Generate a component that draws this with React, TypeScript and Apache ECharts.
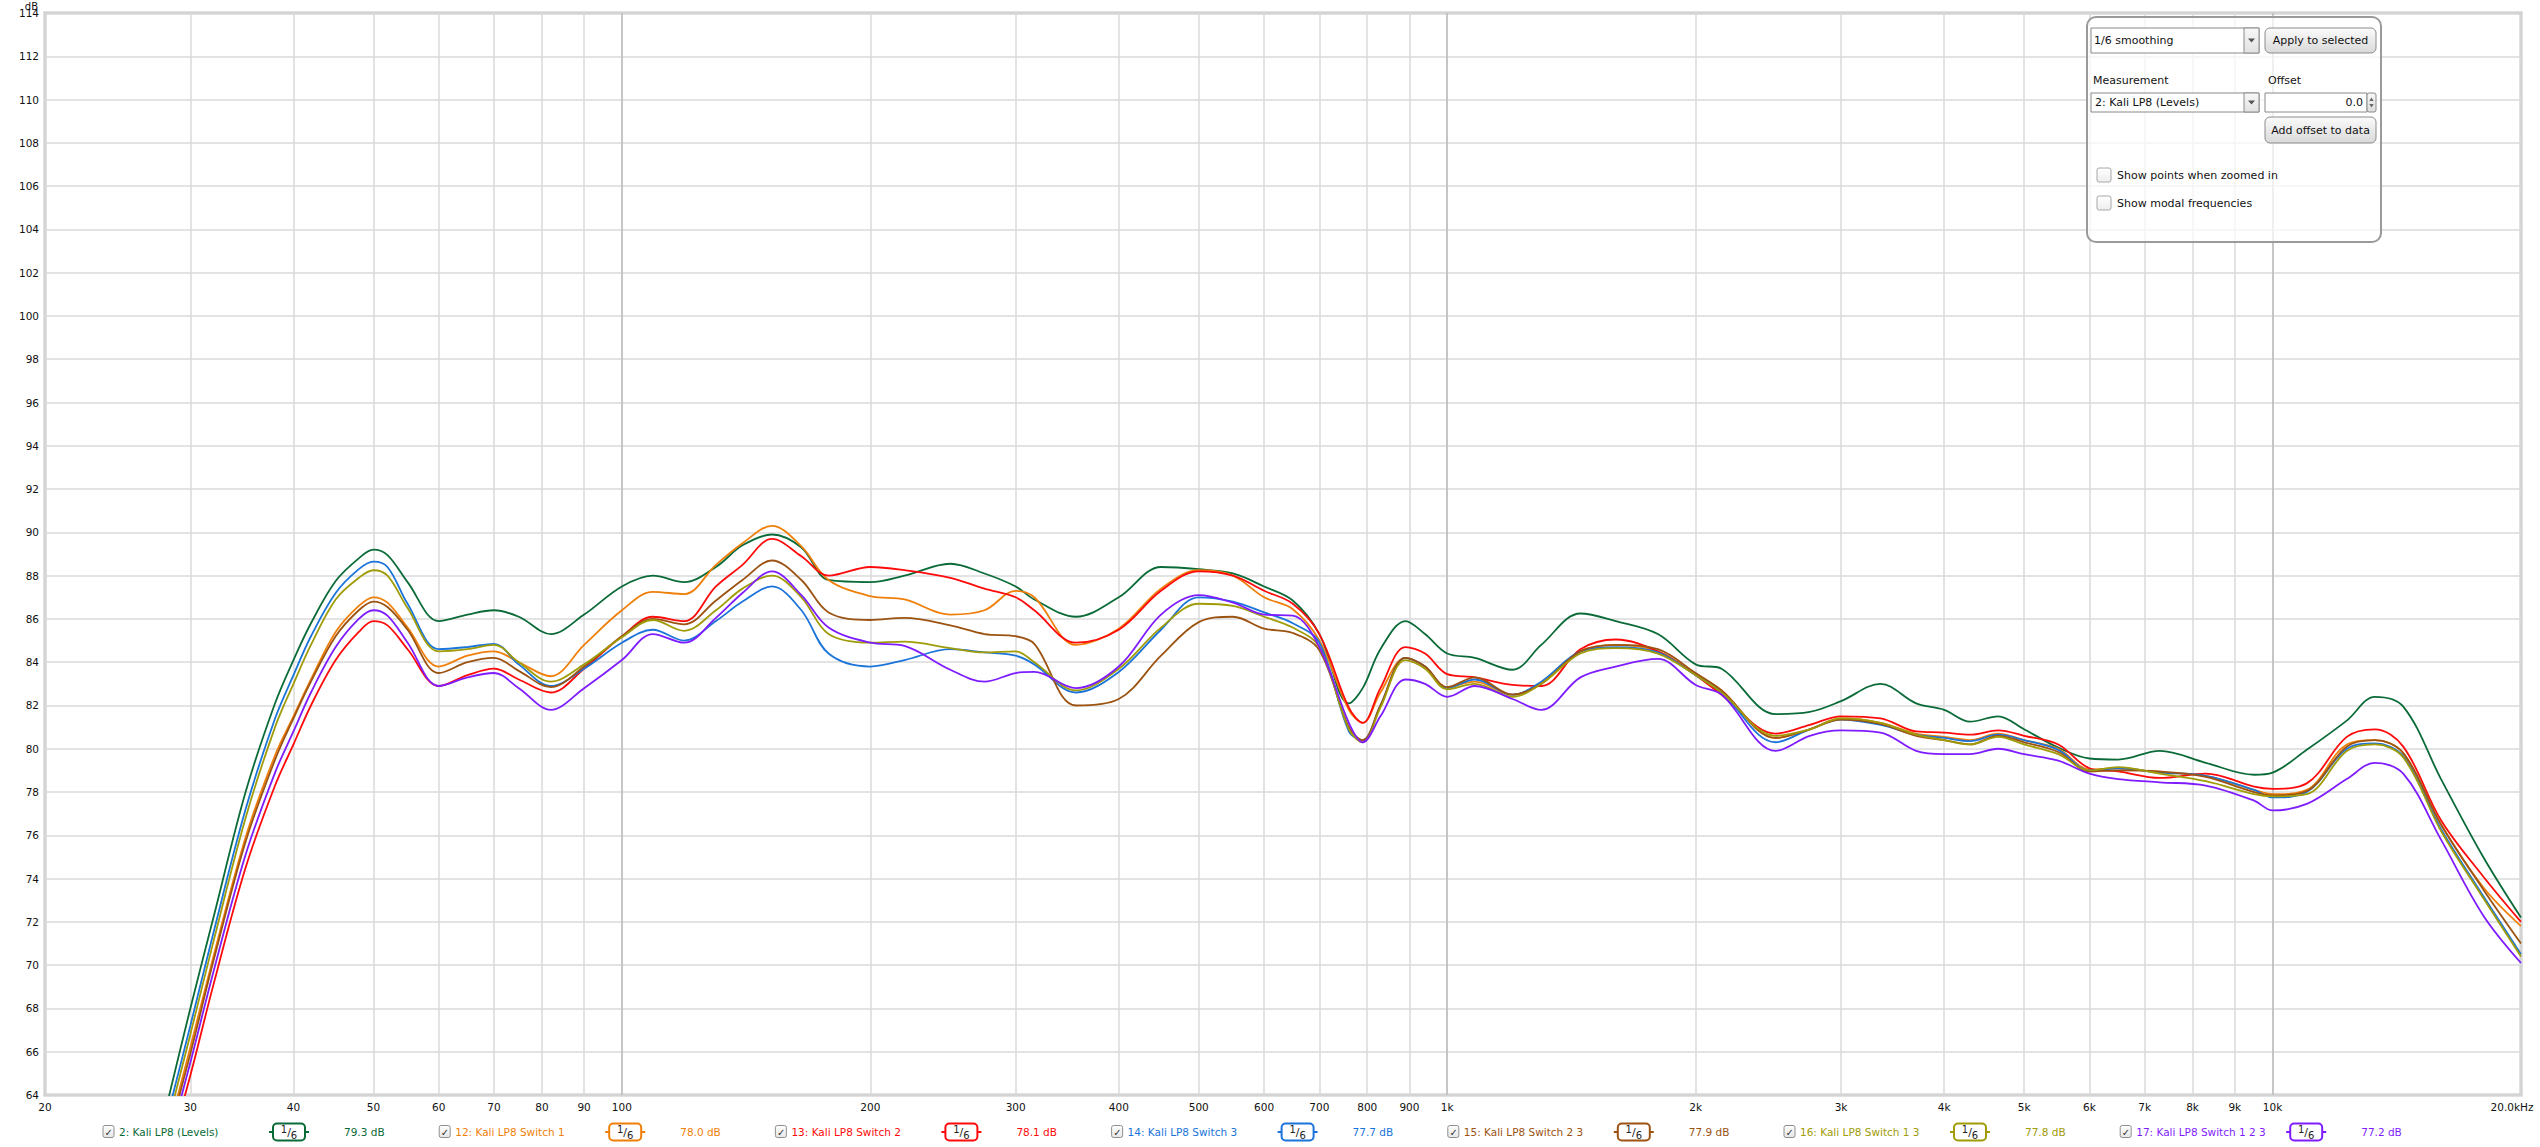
import React, { useEffect, useRef } from "react";
import * as echarts from "echarts";

// ---------- data ----------
const FREQS = [
  28, 30, 32, 35, 38, 40, 42, 45, 48, 50,
  52, 55, 60, 65, 70, 75, 82, 90, 100, 109,
  119, 130, 140, 152, 165, 178, 200, 220, 250, 275,
  300, 316, 355, 400, 450, 500, 550, 600, 650, 700,
  760, 790, 830, 890, 940, 1000, 1080, 1200, 1300, 1450,
  1600, 1800, 2000, 2150, 2500, 2750, 3000, 3350, 3700, 4000,
  4300, 4650, 5000, 5500, 6000, 6500, 7300, 8300, 9500, 10000,
  11000, 12300, 13300, 14400, 16000, 18000, 20000,
];

const LEVELS = [
  63.3, 68.0, 72.2, 78.0, 82.1, 84.1, 85.8, 87.75, 88.8, 89.2,
  88.95, 87.7, 85.9, 86.2, 86.4, 86.1, 85.3, 86.2, 87.5, 88.0,
  87.7, 88.4, 89.4, 89.9, 89.3, 87.8, 87.7, 88.0, 88.55, 88.1,
  87.5, 86.9, 86.1, 87.0, 88.4, 88.3, 88.1, 87.5, 86.85, 85.3,
  82.1, 82.8, 84.6, 85.9, 85.3, 84.4, 84.2, 83.65, 84.8, 86.25,
  85.9, 85.3, 83.9, 83.7, 81.6, 81.7, 82.2, 83.0, 82.1, 81.8,
  81.25, 81.5, 80.9, 80.05, 79.55, 79.5, 79.9, 79.35, 78.8, 78.9,
  79.95, 81.3, 82.4, 81.95, 78.6, 75.0, 72.2,
];

const SWITCH_1 = [
  61.8, 66.2, 70.4, 75.9, 79.7, 81.5, 83.2, 85.4, 86.6, 87.0,
  86.75, 85.6, 83.8, 84.3, 84.5, 84.0, 83.35, 84.8, 86.4, 87.25,
  87.15, 88.5, 89.5, 90.3, 89.35, 87.8, 87.05, 86.9, 86.2, 86.4,
  87.3, 87.0, 84.8, 85.55, 87.4, 88.25, 88.0, 87.0, 86.45, 85.0,
  81.8, 81.2, 82.6, 84.2, 83.8, 82.85, 83.1, 82.5, 83.0, 84.5,
  84.8, 84.5, 83.45, 82.7, 80.5, 80.9, 81.4, 81.2, 80.7, 80.55,
  80.4, 80.7, 80.4, 80.0, 79.05, 79.1, 78.9, 78.75, 78.1, 77.9,
  78.1, 80.2, 80.4, 79.8, 76.5, 73.6, 71.8,
];

const SWITCH_2 = [
  60.8, 64.9, 69.1, 74.5, 78.3, 80.2, 82.0, 84.1, 85.4, 85.9,
  85.7, 84.6, 82.9, 83.4, 83.7, 83.2, 82.6, 83.7, 85.2, 86.1,
  85.9, 87.5, 88.5, 89.7, 88.9, 88.0, 88.4, 88.25, 87.9, 87.4,
  87.0, 86.4, 84.9, 85.5, 87.3, 88.2, 88.0, 87.3, 86.7, 85.3,
  81.9, 81.2, 82.8, 84.7, 84.4, 83.45, 83.3, 82.95, 82.9, 84.6,
  85.05, 84.5, 83.4, 82.5, 80.7, 81.1, 81.5, 81.4, 80.8, 80.75,
  80.65, 80.85, 80.6, 80.2, 79.1, 78.95, 78.65, 78.85, 78.25, 78.15,
  78.4, 80.55, 80.9, 80.1, 76.7, 74.1, 72.0,
];

const SWITCH_3 = [
  62.7, 67.2, 71.5, 77.2, 81.4, 83.4, 85.2, 87.2, 88.3, 88.65,
  88.4, 86.7, 84.6, 84.7, 84.85, 83.9, 82.9, 83.7, 84.9, 85.5,
  85.0, 85.9, 86.8, 87.5, 86.4, 84.4, 83.8, 84.1, 84.6, 84.45,
  84.3, 83.9, 82.6, 83.55, 85.5, 87.0, 86.8, 86.3, 85.8, 84.9,
  80.8, 80.4, 82.0, 84.2, 83.8, 82.8, 83.2, 82.5, 83.1, 84.5,
  84.7, 84.45, 83.4, 82.6, 80.3, 80.9, 81.35, 81.1, 80.65, 80.5,
  80.35, 80.65, 80.4, 79.95, 79.0, 79.1, 78.9, 78.75, 78.1, 77.75,
  78.0, 80.0, 80.25, 79.65, 76.3, 73.2, 70.5,
];

const SWITCH_2_3 = [
  61.6, 65.9, 70.2, 75.7, 79.5, 81.4, 83.1, 85.2, 86.4, 86.8,
  86.55, 85.5, 83.5, 84.0, 84.2, 83.6, 82.85, 83.8, 85.2, 86.0,
  85.75, 86.85, 87.8, 88.7, 87.8, 86.3, 85.95, 86.05, 85.7, 85.3,
  85.2, 84.85, 82.0, 82.3, 84.3, 85.85, 86.1, 85.55, 85.35, 84.55,
  81.0, 80.4, 82.0, 84.2, 83.8, 82.85, 83.3, 82.5, 83.0, 84.5,
  84.8, 84.6, 83.5, 82.7, 80.5, 80.9, 81.35, 81.15, 80.6, 80.4,
  80.2, 80.6, 80.3, 79.85, 78.95, 79.0, 78.95, 78.7, 78.0, 77.85,
  78.05, 80.1, 80.4, 79.8, 76.5, 73.5, 71.0,
];

const SWITCH_1_3 = [
  62.3, 66.8, 71.1, 76.8, 81.0, 83.0, 84.8, 86.9, 87.9, 88.25,
  88.0, 86.5, 84.5, 84.6, 84.8, 84.0, 83.1, 83.9, 85.15, 85.95,
  85.45, 86.4, 87.4, 88.0, 87.0, 85.3, 84.9, 84.95, 84.65, 84.45,
  84.5, 84.0, 82.7, 83.7, 85.6, 86.7, 86.6, 86.1, 85.6, 84.7,
  80.9, 80.3, 81.9, 84.1, 83.7, 82.75, 83.0, 82.4, 83.0, 84.4,
  84.65, 84.4, 83.4, 82.6, 80.6, 80.9, 81.4, 81.2, 80.65, 80.4,
  80.2, 80.55, 80.2, 79.75, 79.0, 79.15, 78.85, 78.5, 77.9, 77.8,
  77.9, 79.9, 80.2, 79.6, 76.2, 73.1, 70.4,
];

const SWITCH_1_2_3 = [
  61.2, 65.5, 69.7, 75.1, 78.9, 80.8, 82.6, 84.7, 86.0, 86.4,
  86.15, 84.9, 82.9, 83.3, 83.5, 82.8, 81.8, 82.8, 84.1, 85.3,
  84.9, 86.05, 87.2, 88.2, 87.1, 85.6, 84.9, 84.75, 83.65, 83.1,
  83.5, 83.55, 82.8, 83.8, 86.2, 87.1, 86.75, 86.2, 86.15, 84.7,
  81.2, 80.3, 81.5, 83.2, 83.0, 82.4, 82.9, 82.3, 81.8, 83.3,
  83.8, 84.15, 82.95, 82.5, 79.9, 80.6, 80.85, 80.75, 79.9, 79.75,
  79.75, 80.0, 79.75, 79.45, 78.85, 78.6, 78.45, 78.3, 77.6, 77.15,
  77.45, 78.6, 79.35, 78.85, 75.8, 72.3, 70.1,
];

const SERIES_VALUES = [LEVELS, SWITCH_1, SWITCH_2, SWITCH_3, SWITCH_2_3, SWITCH_1_3, SWITCH_1_2_3];
const SERIES_NAMES = [
  "2: Kali LP8 (Levels)",
  "12: Kali LP8 Switch 1",
  "13: Kali LP8 Switch 2",
  "14: Kali LP8 Switch 3",
  "15: Kali LP8 Switch 2 3",
  "16: Kali LP8 Switch 1 3",
  "17: Kali LP8 Switch 1 2 3",
];
const SERIES_COLORS = ["#0b6b38", "#f07f0a", "#ff0a0a", "#1a74d9", "#9c5312", "#a09c08", "#7f1cff"];
const AVG_LABELS = ["79.3 dB", "78.0 dB", "78.1 dB", "77.7 dB", "77.9 dB", "77.8 dB", "77.2 dB"];

const X_TICKS = [20, 30, 40, 50, 60, 70, 80, 90, 100, 200, 300, 400, 500, 600, 700, 800, 900,
  1000, 2000, 3000, 4000, 5000, 6000, 7000, 8000, 9000, 10000, 20000];
const X_TICK_LABELS = ["20", "30", "40", "50", "60", "70", "80", "90", "100", "200", "300", "400",
  "500", "600", "700", "800", "900", "1k", "2k", "3k", "4k", "5k", "6k", "7k", "8k", "9k", "10k", "20.0kHz"];
const X_MAJOR = [100, 1000, 10000];
const Y_MIN = 64;
const Y_MAX = 114;
const Y_STEP = 2;

const FONT = "'DejaVu Sans', 'Liberation Sans', sans-serif";

function grad(a: string, b: string) {
  return { type: "linear", x: 0, y: 0, x2: 0, y2: 1, colorStops: [{ offset: 0, color: a }, { offset: 1, color: b }] };
}

function txt(x: number, y: number, text: string, fill: string, size = 10.5, align = "left", extra: any = {}) {
  return {
    type: "text", x, y, z: 120, silent: true,
    style: { text, fill, fontSize: size, fontFamily: FONT, align, verticalAlign: "middle", ...extra },
  };
}

function buildGraphics() {
  const g: any[] = [];
  // "dB" axis unit
  g.push(txt(38, 6, "dB", "#111", 10, "right"));

  // legend row
  const LX0 = 103;
  const STRIDE = 336.2;
  const LY = 1132;
  SERIES_NAMES.forEach((name, i) => {
    const x = LX0 + i * STRIDE;
    const c = SERIES_COLORS[i];
    g.push({ type: "rect", z: 110, silent: true, shape: { x: x, y: LY - 6.5, width: 11, height: 12, r: 2 },
      style: { fill: grad("#ffffff", "#e6e6e6"), stroke: "#8e8e8e", lineWidth: 1 } });
    g.push(txt(x + 5.8, LY, "✓", "#333", 10, "center"));
    g.push(txt(x + 16, LY, name, c, 10.5, "left"));
    g.push({ type: "line", z: 110, silent: true, shape: { x1: x + 166, y1: LY, x2: x + 206, y2: LY },
      style: { stroke: c, lineWidth: 2 } });
    g.push({ type: "rect", z: 111, silent: true, shape: { x: x + 170, y: LY - 8.5, width: 32, height: 17, r: 4 },
      style: { fill: "#ffffff", stroke: c, lineWidth: 2 } });
    g.push({
      type: "text", x: x + 186, y: LY, z: 120, silent: true,
      style: {
        text: "{a|1}{b|/}{c|6}", align: "center", verticalAlign: "middle", fill: "#222",
        fontFamily: FONT, fontSize: 10,
        rich: {
          a: { fontSize: 10, fontFamily: FONT, fill: "#222", verticalAlign: "top" },
          b: { fontSize: 11, fontFamily: FONT, fill: "#222", lineHeight: 16 },
          c: { fontSize: 10, fontFamily: FONT, fill: "#222", verticalAlign: "bottom" },
        },
      },
    });
    g.push(txt(x + 241, LY, AVG_LABELS[i], c, 10.5, "left"));
  });

  // control panel (top right)
  g.push({ type: "rect", z: 105, silent: true, shape: { x: 2087, y: 17, width: 294, height: 225, r: 9 },
    style: { fill: "rgba(255,255,255,0.72)", stroke: "#9a9a9a", lineWidth: 2 } });
  // dropdown 1
  g.push({ type: "rect", z: 110, silent: true, shape: { x: 2091, y: 28, width: 168, height: 25 },
    style: { fill: "#ffffff", stroke: "#8a8a8a", lineWidth: 1 } });
  g.push({ type: "rect", z: 111, silent: true, shape: { x: 2244, y: 28, width: 15, height: 25 },
    style: { fill: grad("#f8f8f8", "#e2e2e2"), stroke: "#8a8a8a", lineWidth: 1 } });
  g.push({ type: "polygon", z: 112, silent: true, shape: { points: [[2248, 38.5], [2255, 38.5], [2251.5, 42.5]] },
    style: { fill: "#555" } });
  g.push(txt(2094, 40.5, "1/6 smoothing", "#111", 11, "left"));
  // button 1
  g.push({ type: "rect", z: 110, silent: true, shape: { x: 2265, y: 28, width: 111, height: 25, r: 5 },
    style: { fill: grad("#fbfbfb", "#d9d9d9"), stroke: "#8c8c8c", lineWidth: 1 } });
  g.push(txt(2320.5, 40.5, "Apply to selected", "#111", 11, "center"));
  // labels
  g.push(txt(2093, 80, "Measurement", "#111", 11, "left"));
  g.push(txt(2268, 80, "Offset", "#111", 11, "left"));
  // dropdown 2
  g.push({ type: "rect", z: 110, silent: true, shape: { x: 2091, y: 93, width: 168, height: 19 },
    style: { fill: "#ffffff", stroke: "#8a8a8a", lineWidth: 1 } });
  g.push({ type: "rect", z: 111, silent: true, shape: { x: 2244, y: 93, width: 15, height: 19 },
    style: { fill: grad("#f8f8f8", "#e2e2e2"), stroke: "#8a8a8a", lineWidth: 1 } });
  g.push({ type: "polygon", z: 112, silent: true, shape: { points: [[2248, 100.5], [2255, 100.5], [2251.5, 104.5]] },
    style: { fill: "#555" } });
  g.push(txt(2095, 102.5, "2: Kali LP8 (Levels)", "#111", 11, "left"));
  // offset field
  g.push({ type: "rect", z: 110, silent: true, shape: { x: 2265, y: 93, width: 102, height: 19 },
    style: { fill: "#ffffff", stroke: "#8a8a8a", lineWidth: 1 } });
  g.push(txt(2363, 102.5, "0.0", "#111", 11, "right"));
  g.push({ type: "rect", z: 110, silent: true, shape: { x: 2367, y: 93, width: 9, height: 19, r: 2 },
    style: { fill: grad("#f8f8f8", "#dcdcdc"), stroke: "#8a8a8a", lineWidth: 1 } });
  g.push({ type: "polygon", z: 112, silent: true, shape: { points: [[2369.3, 101], [2373.7, 101], [2371.5, 97.5]] },
    style: { fill: "#666" } });
  g.push({ type: "polygon", z: 112, silent: true, shape: { points: [[2369.3, 104], [2373.7, 104], [2371.5, 107.5]] },
    style: { fill: "#666" } });
  // button 2
  g.push({ type: "rect", z: 110, silent: true, shape: { x: 2265, y: 117, width: 111, height: 26, r: 5 },
    style: { fill: grad("#fbfbfb", "#d9d9d9"), stroke: "#8c8c8c", lineWidth: 1 } });
  g.push(txt(2320.5, 130, "Add offset to data", "#111", 11, "center"));
  // checkboxes
  g.push({ type: "rect", z: 110, silent: true, shape: { x: 2097, y: 168, width: 14, height: 14, r: 2 },
    style: { fill: grad("#ffffff", "#eeeeee"), stroke: "#a6a6a6", lineWidth: 1 } });
  g.push(txt(2117, 175, "Show points when zoomed in", "#111", 11, "left"));
  g.push({ type: "rect", z: 110, silent: true, shape: { x: 2097, y: 196, width: 14, height: 14, r: 2 },
    style: { fill: grad("#ffffff", "#eeeeee"), stroke: "#a6a6a6", lineWidth: 1 } });
  g.push(txt(2117, 203, "Show modal frequencies", "#111", 11, "left"));
  return g;
}

export default function App() {
  const ref = useRef<HTMLDivElement>(null);
  useEffect(() => {
    const chart = echarts.init(ref.current as HTMLDivElement, null, { renderer: "svg" });
    const xMin = Math.log10(20);
    const xMax = Math.log10(20000);
    const tickVals = X_TICKS.map((f) => Math.log10(f));
    const majorVals = X_MAJOR.map((f) => Math.log10(f));
    const labelFor = (v: number) => {
      for (let i = 0; i < X_TICKS.length; i++) {
        if (Math.abs(tickVals[i] - v) < 1e-6) {
          return i === X_TICKS.length - 1 ? "{last|" + X_TICK_LABELS[i] + "}" : X_TICK_LABELS[i];
        }
      }
      return "";
    };
    const option: any = {
      animation: false,
      backgroundColor: "#ffffff",
      grid: {
        left: 45, right: 19, top: 13, bottom: 52,
        show: true, borderColor: "#c4c4c4", borderWidth: 3, backgroundColor: "#ffffff",
        containLabel: false, outerBoundsMode: "none",
      },
      xAxis: [
        {
          type: "value", min: xMin, max: xMax, position: "bottom",
          axisLine: { show: false },
          axisTick: { show: false, customValues: tickVals },
          axisLabel: {
            customValues: tickVals, formatter: labelFor, margin: 6,
            color: "#111", fontSize: 10.5, fontFamily: FONT,
            rich: { last: { fontSize: 10.5, fontFamily: FONT, color: "#111", padding: [0, 18, 0, 0] } },
          },
          splitLine: { show: true, lineStyle: { color: "#dadada", width: 1.5 } },
        },
        {
          type: "value", min: xMin, max: xMax, position: "top",
          axisLine: { show: false },
          axisTick: { show: false, customValues: majorVals },
          axisLabel: { show: false, customValues: majorVals },
          splitLine: { show: true, lineStyle: { color: "#bcbcbc", width: 1.5 } },
        },
      ],
      yAxis: {
        type: "value", min: Y_MIN, max: Y_MAX, interval: Y_STEP,
        axisLine: { show: false }, axisTick: { show: false },
        axisLabel: { color: "#111", fontSize: 10.5, fontFamily: FONT, margin: 6 },
        splitLine: { show: true, lineStyle: { color: "#dadada", width: 1.5 } },
      },
      series: SERIES_VALUES.map((vals, si) => ({
        name: SERIES_NAMES[si],
        type: "line",
        xAxisIndex: 0,
        data: FREQS.map((f, i) => [Math.log10(f), vals[i]]),
        showSymbol: false,
        symbol: "none",
        smooth: 0.35,
        clip: true,
        silent: true,
        z: 10 + si,
        lineStyle: { color: SERIES_COLORS[si], width: 1.8 },
        itemStyle: { color: SERIES_COLORS[si] },
      })),
      graphic: buildGraphics(),
    };
    chart.setOption(option);
    return () => chart.dispose();
  }, []);
  return (
    <div
      ref={ref}
      style={{ position: "fixed", left: 0, top: 0, width: 2540, height: 1147, background: "#ffffff" }}
    />
  );
}
